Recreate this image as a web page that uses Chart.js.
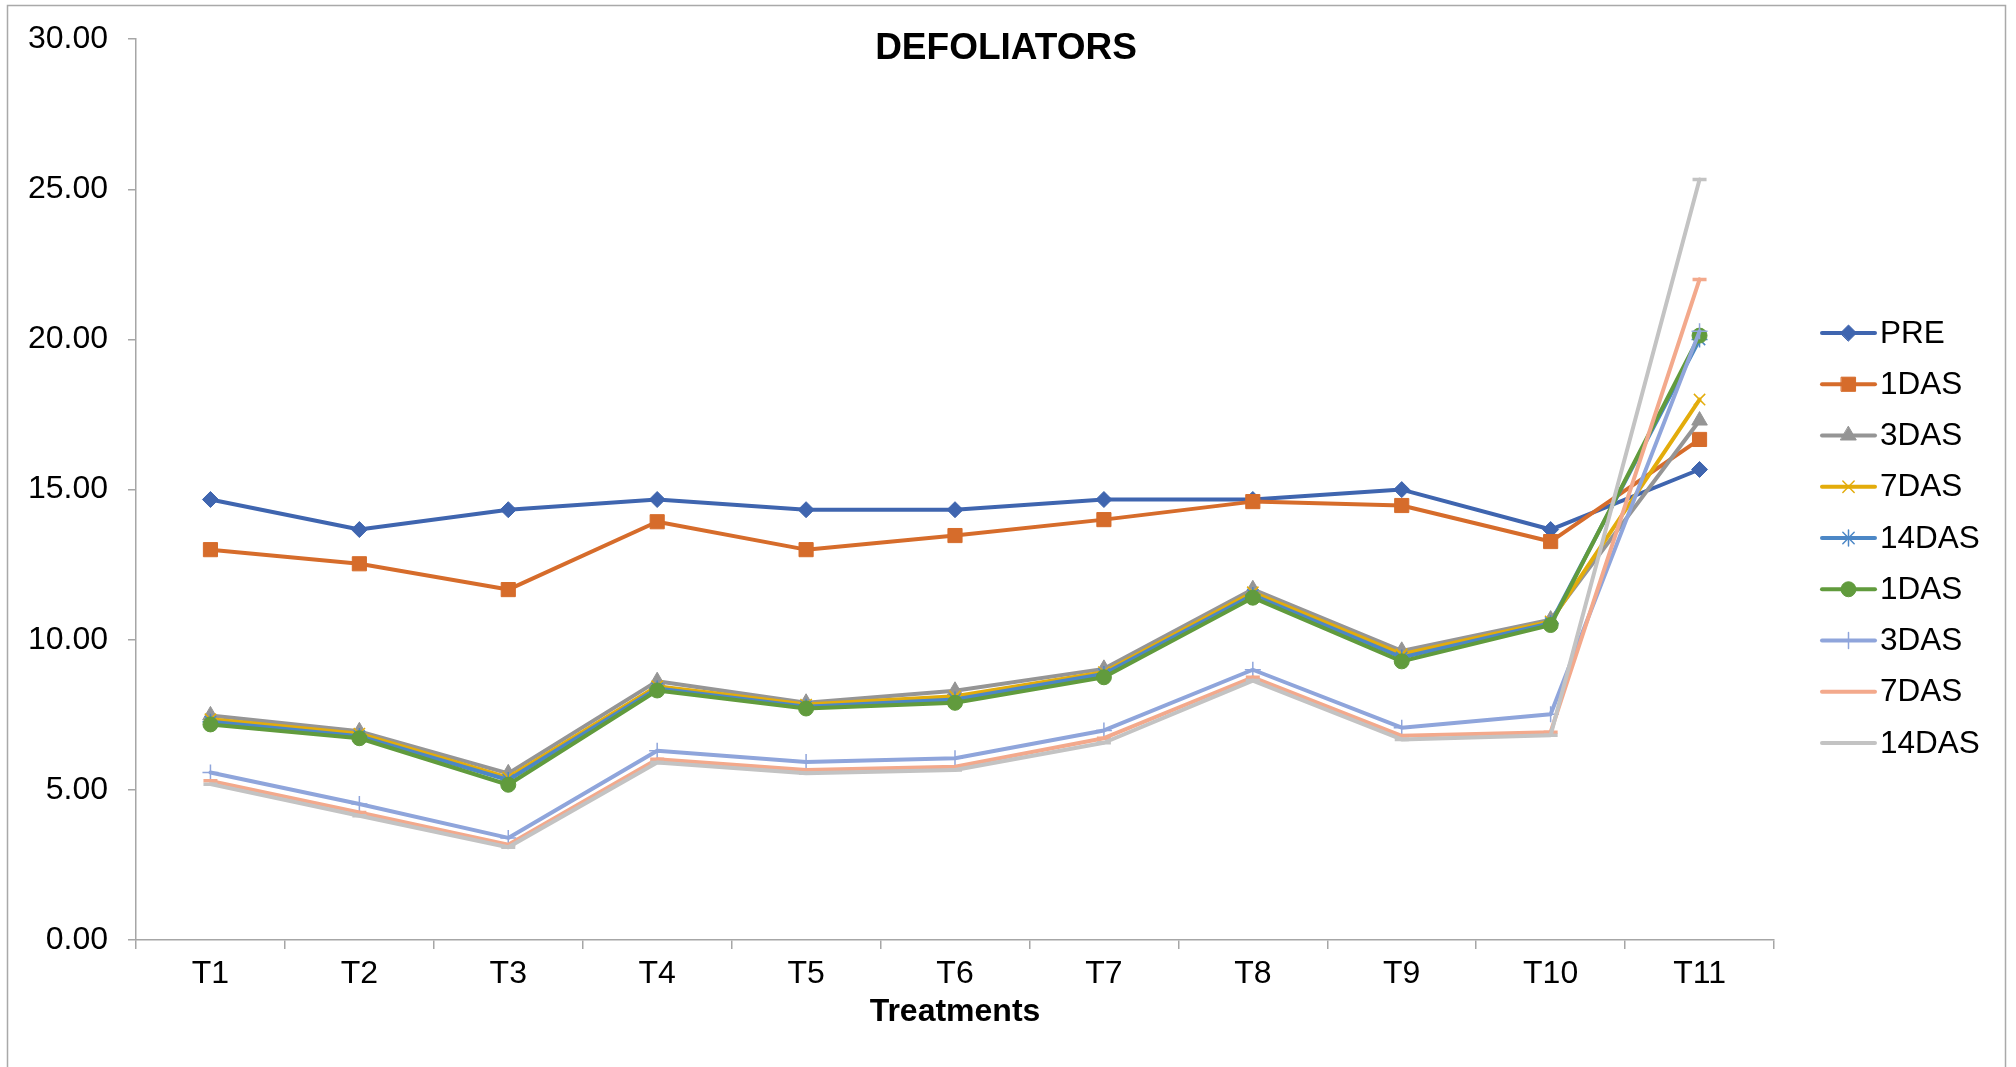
<!DOCTYPE html>
<html>
<head>
<meta charset="utf-8">
<title>DEFOLIATORS</title>
<script src="https://cdn.jsdelivr.net/npm/chart.js@4.4.1/dist/chart.umd.min.js"></script>
<style>
  html, body { margin: 0; padding: 0; background: #fff; overflow: hidden; }
  #wrap { position: relative; width: 2016px; height: 1067px; }
</style>
</head>
<body>
<div id="wrap"><canvas id="lineChart" width="2016" height="1067"></canvas></div>
<script>
// categories and series values
const categories = ["T1", "T2", "T3", "T4", "T5", "T6", "T7", "T8", "T9", "T10", "T11"];
const seriesNames = ["PRE", "1DAS", "3DAS", "7DAS", "14DAS", "1DAS", "3DAS", "7DAS", "14DAS"];

const pre = [14.67, 13.67, 14.33, 14.67, 14.33, 14.33, 14.67, 14.67, 15.0, 13.67, 15.67];
const das1 = [13.0, 12.53, 11.67, 13.93, 13.0, 13.47, 14.0, 14.6, 14.47, 13.27, 16.67];
const das3 = [7.48, 6.95, 5.55, 8.62, 7.9, 8.3, 9.03, 11.68, 9.63, 10.67, 17.3];
const das7 = [7.35, 6.87, 5.41, 8.45, 7.84, 8.12, 8.92, 11.58, 9.52, 10.61, 18.0];
const das14 = [7.27, 6.79, 5.33, 8.38, 7.77, 8.01, 8.86, 11.49, 9.41, 10.55, 20.0];
const das1b = [7.18, 6.72, 5.17, 8.31, 7.71, 7.9, 8.75, 11.4, 9.28, 10.49, 20.13];
const das3b = [5.58, 4.53, 3.4, 6.3, 5.93, 6.05, 6.98, 9.0, 7.07, 7.52, 20.27];
const das7b = [5.3, 4.25, 3.17, 6.02, 5.66, 5.77, 6.72, 8.75, 6.8, 6.92, 22.0];
const das14b = [5.19, 4.14, 3.09, 5.91, 5.55, 5.66, 6.57, 8.64, 6.68, 6.82, 25.33];

const yTicks = [0, 5, 10, 15, 20, 25, 30];

const seriesValues = [pre, das1, das3, das7, das14, das1b, das3b, das7b, das14b];
const colors = ["#3f65af", "#d66c2b", "#959595", "#e3ac0b", "#4c87c6", "#619b3d", "#8fa5db", "#f3a98c", "#c3c3c3"];
const markers = ["rectRot", "rect", "triangle", "crossRot", "star", "circle", "cross", "line", "line"];
const markerSize = [8, 10, 9, 8, 8, 7.5, 8, 7, 7];
const markerBorder = [1, 1, 1, 1.5, 1.5, 1, 1.5, 3.5, 3.5];

const FONT = "'Liberation Sans', Arial, sans-serif";

const datasets = seriesValues.map(function (vals, i) {
  return {
    label: seriesNames[i],
    data: vals,
    borderColor: colors[i],
    backgroundColor: colors[i],
    borderWidth: 4,
    borderJoinStyle: "round",
    borderCapStyle: "round",
    tension: 0,
    fill: false,
    pointStyle: markers[i],
    pointRadius: markerSize[i],
    pointBorderWidth: markerBorder[i],
    pointBackgroundColor: colors[i],
    pointBorderColor: colors[i],
    // later series are painted over earlier ones, like the original
    order: seriesValues.length - 1 - i,
  };
});

// frame round the chart and the title text
const framePlugin = {
  id: "frame",
  beforeDraw(chart) {
    const ctx = chart.ctx;
    ctx.save();
    ctx.fillStyle = "#fff";
    ctx.fillRect(0, 0, chart.width, chart.height);
    ctx.strokeStyle = "#a9a9a9";
    ctx.lineWidth = 1.5;
    ctx.strokeRect(7.5, 5.5, 1998, 1080);
    ctx.restore();
  },
  afterDraw(chart) {
    const ctx = chart.ctx;
    ctx.save();
    ctx.fillStyle = "#000";
    ctx.font = "bold 37px " + FONT;
    ctx.textAlign = "center";
    ctx.textBaseline = "middle";
    ctx.fillText("DEFOLIATORS", 1006, 49);
    ctx.restore();
  },
};

// Excel style legend: a line with the marker in it, then the name
const legendPlugin = {
  id: "lineLegend",
  afterDraw(chart) {
    const ctx = chart.ctx;
    const x0 = chart.chartArea.right + 48;
    const x1 = x0 + 53;
    const top = 333;
    const step = 51.25;
    ctx.save();
    chart.data.datasets.forEach(function (ds, i) {
      const y = top + step * i;
      ctx.strokeStyle = ds.borderColor;
      ctx.lineWidth = 4;
      ctx.lineCap = "round";
      ctx.beginPath();
      ctx.moveTo(x0, y);
      ctx.lineTo(x1, y);
      ctx.stroke();
      if (ds.pointStyle !== "line") {
        ctx.fillStyle = ds.pointBackgroundColor;
        ctx.strokeStyle = ds.pointBorderColor;
        ctx.lineWidth = ds.pointBorderWidth;
        Chart.helpers.drawPoint(ctx, {
          pointStyle: ds.pointStyle,
          radius: ds.pointRadius,
          borderWidth: ds.pointBorderWidth,
          rotation: 0,
        }, (x0 + x1) / 2, y);
      }
      ctx.fillStyle = "#000";
      ctx.font = "31.5px " + FONT;
      ctx.textAlign = "left";
      ctx.textBaseline = "middle";
      ctx.fillText(ds.label, x1 + 5, y + 1);
    });
    ctx.restore();
  },
};

const ctx = document.getElementById("lineChart").getContext("2d");
const chart = new Chart(ctx, {
  type: "line",
  data: {
    labels: categories,
    datasets: datasets,
  },
  options: {
    responsive: false,
    animation: false,
    events: [],
    layout: {
      padding: { top: 35, right: 242, bottom: 0, left: 0 },
    },
    plugins: {
      legend: { display: false },
      title: { display: false },
      tooltip: { enabled: false },
    },
    scales: {
      x: {
        type: "category",
        offset: true,
        grid: {
          display: true,
          offset: true,
          drawOnChartArea: false,
          drawTicks: true,
          tickLength: 9,
          color: "#a6a6a6",
          lineWidth: 1.5,
        },
        border: { display: true, color: "#a6a6a6", width: 1.5 },
        ticks: {
          color: "#000",
          font: { family: FONT, size: 32 },
          padding: 6,
          maxRotation: 0,
          autoSkip: false,
        },
        title: {
          display: true,
          text: "Treatments",
          color: "#000",
          font: { family: FONT, size: 32, weight: "bold" },
          padding: { top: 0, bottom: 36 },
        },
        afterFit(scale) {
          scale.height = 127;
        },
      },
      y: {
        min: yTicks[0],
        max: yTicks[yTicks.length - 1],
        afterBuildTicks(scale) {
          scale.ticks = yTicks.map(function (v) { return { value: v }; });
        },
        grid: {
          display: true,
          drawOnChartArea: false,
          drawTicks: true,
          tickLength: 8,
          color: "#a6a6a6",
          lineWidth: 1.5,
        },
        border: { display: true, color: "#a6a6a6", width: 1.5 },
        ticks: {
          color: "#000",
          font: { family: FONT, size: 32 },
          padding: 20,
          callback: function (v) { return Number(v).toFixed(2); },
        },
        afterFit(scale) {
          scale.width = 136;
        },
      },
    },
  },
  plugins: [framePlugin, legendPlugin],
});
</script>
</body>
</html>
